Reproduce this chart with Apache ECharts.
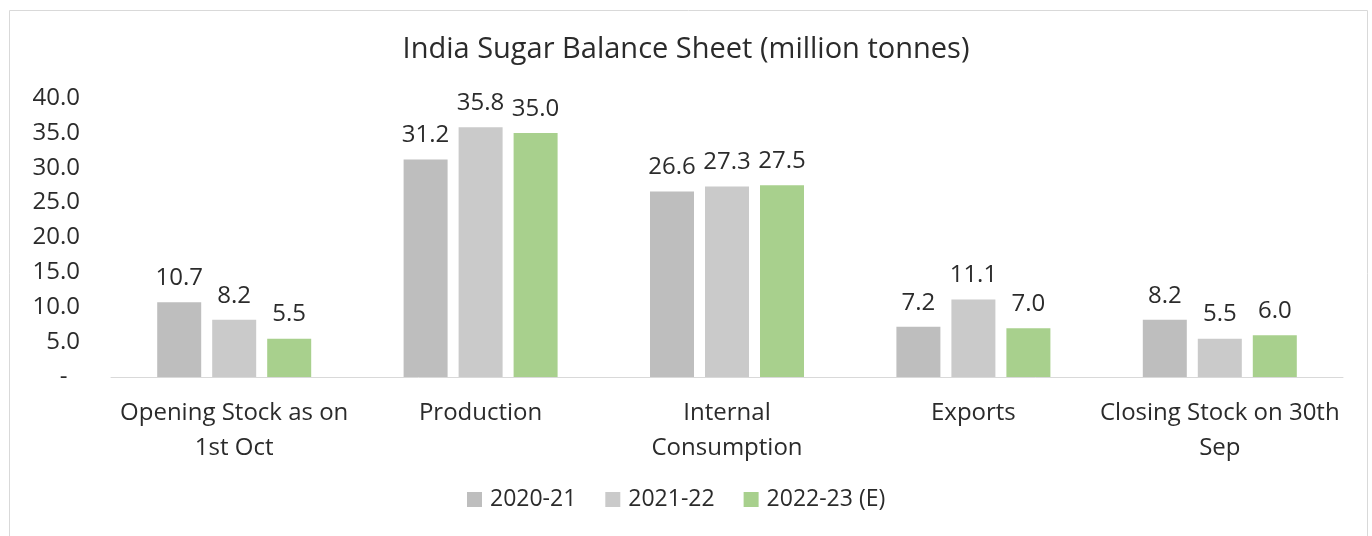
<!DOCTYPE html>
<html>
<head>
<meta charset="utf-8">
<script src="https://cdn.jsdelivr.net/npm/echarts@6/dist/echarts.min.js"></script>
<style>
  html, body { margin: 0; padding: 0; background: #fff; }
  #chart { width: 1372px; height: 536px; }
</style>
</head>
<body>
<div id="chart"></div>
<script>
  // data
  const categories = ['Opening Stock as on\n1st Oct', 'Production', 'Internal\nConsumption', 'Exports', 'Closing Stock on 30th\nSep']
  const seriesNames = ['2020-21', '2021-22', '2022-23 (E)']
  const values2021 = [10.7, 31.2, 26.6, 7.2, 8.2]
  const values2122 = [8.2, 35.8, 27.3, 11.1, 5.5]
  const values2223 = [5.5, 35.0, 27.5, 7.0, 6.0]
  const colors = ['#bebebe', '#cacaca', '#a8d08d']

  const font = 'Open Sans'
  const textColor = '#2b2b2b'

  let myChart = echarts.init(document.getElementById('chart'))

  const makeSeries = (name, data, color) => ({
    name: name,
    type: 'bar',
    data: data,
    barWidth: 44,
    barGap: '25%',
    itemStyle: { color: color },
    label: {
      show: true,
      position: 'top',
      distance: 12,
      fontFamily: font,
      fontSize: 24,
      color: textColor,
      formatter: p => p.value.toFixed(1)
    }
  })

  let option = {
    animation: false,
    color: colors,
    title: {
      text: 'India Sugar Balance Sheet (million tonnes)',
      left: 'center',
      top: 30,
      textStyle: { fontFamily: font, fontSize: 29, fontWeight: 'normal', color: textColor }
    },
    graphic: [{
      type: 'rect',
      shape: { x: 9.5, y: 10.5, width: 1358, height: 540 },
      style: { fill: 'none', stroke: '#d9d9d9', lineWidth: 1 },
      silent: true
    }],
    legend: {
      data: seriesNames,
      bottom: 20,
      left: 462,
      itemWidth: 15,
      itemHeight: 15,
      itemGap: 29,
      icon: 'rect',
      textStyle: { fontFamily: font, fontSize: 23, color: textColor, padding: [0, 0, 0, 3] }
    },
    grid: {
      left: 111,
      right: 29,
      top: 98,
      bottom: 159
    },
    xAxis: {
      type: 'category',
      data: categories,
      axisLine: { lineStyle: { color: '#d9d9d9', width: 1 } },
      axisTick: { show: false },
      axisLabel: {
        fontFamily: font,
        fontSize: 24,
        color: textColor,
        margin: 19,
        lineHeight: 35,
        interval: 0
      }
    },
    yAxis: {
      type: 'value',
      min: 0,
      max: 40,
      interval: 5,
      axisLine: { show: false },
      axisTick: { show: false },
      splitLine: { show: false },
      axisLabel: {
        fontFamily: font,
        fontSize: 24,
        color: textColor,
        margin: 31,
        formatter: v => v === 0 ? '-  ' : v.toFixed(1)
      }
    },
    series: [
      makeSeries(seriesNames[0], values2021, colors[0]),
      makeSeries(seriesNames[1], values2122, colors[1]),
      makeSeries(seriesNames[2], values2223, colors[2])
    ]
  }
  myChart.setOption(option)
</script>
</body>
</html>
